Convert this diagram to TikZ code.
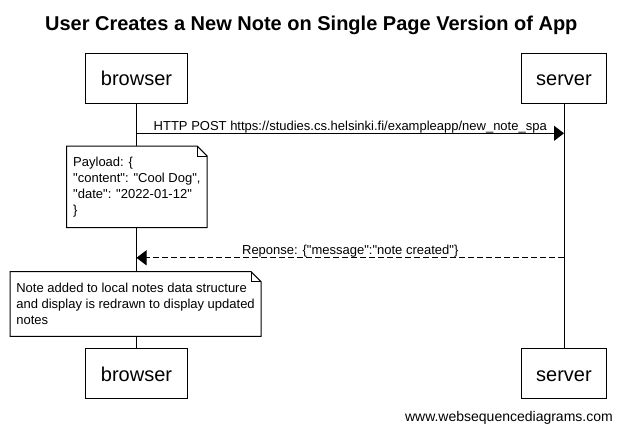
\documentclass[tikz,border=0pt]{standalone}
\usepackage{fontspec}
\setmainfont{Liberation Sans}[Ligatures=TeXOff]
\usetikzlibrary{arrows.meta,calc}

\tikzset{
  actor/.style={draw, line width=1pt, fill=white, minimum height=50pt, inner xsep=15pt,
    text height=14.5pt, text depth=0pt, font=\fontsize{20}{24}\selectfont},
  notebox/.style={fill=white, align=left, inner xsep=6pt, inner ysep=0pt, anchor=north west,
    font=\fontsize{13}{16}\selectfont},
  msg/.style={line width=1pt, -{Triangle[length=10pt,width=15pt]}},
  msglabel/.style={midway, anchor=base, inner sep=0pt, yshift=3pt, font=\fontsize{13}{16}\selectfont},
}

\begin{document}
\begin{tikzpicture}[x=1pt,y=-1pt]
  \def\bx{136.5};
  \def\sx{564};
  \def\ya{78};
  \def\yb{373.8};
  \useasboundingbox (0,0) rectangle (622,432);
  \node[anchor=base, inner sep=0pt, font=\bfseries\fontsize{20}{24}\selectfont] (title) at (311.3,30) {User Creates a New Note on Single Page Version of App};
  \node[actor] (browserTop) at (\bx,\ya) {browser};
  \node[actor] (serverTop) at (\sx,\ya) {server};
  \node[actor] (browserBot) at (\bx,\yb) {browser};
  \node[actor] (serverBot) at (\sx,\yb) {server};
  %lifelines
  \draw[line width=1pt] (browserTop) -- (browserBot);
  \draw[line width=1pt] (serverTop) -- (serverBot);
  \node[actor] at (browserTop) {browser};
  \node[actor] at (serverTop) {server};
  \node[actor] at (browserBot) {browser};
  \node[actor] at (serverBot) {server};
  %messages
  \coordinate (postB) at (\bx,133.3);
  \coordinate (postS) at (\sx,133.3);
  \coordinate (respB) at (\bx,257.8);
  \coordinate (respS) at (\sx,257.8);
  \draw[msg] (postB) -- node[msglabel] {HTTP POST https://studies.cs.helsinki.fi/exampleapp/new\_note\_spa} (postS);
  \draw[msg, dash pattern=on 6pt off 3pt] (respS) -- node[msglabel] {Reponse: \{"message":"note created"\}} (respB);
  %notes
  \node[notebox, minimum width=140pt, minimum height=81.3pt] (payload) at (66.7,146)
    {Payload: \{\\"content": "Cool Dog",\\"date": "2022-01-12"\\\}};
  \node[notebox, minimum width=250.7pt, minimum height=64.3pt] (redraw) at (10,271.7)
    {Note added to local notes data structure\\and display is redrawn to display updated\\notes};
  \foreach \n in {payload,redraw} {
    \draw[line width=1pt, line join=miter] (\n.north west) -- ($(\n.north east)+(-10,0)$) -- ($(\n.north east)+(0,10)$) -- (\n.south east) -- (\n.south west) -- cycle;
    \draw[line width=1pt] ($(\n.north east)+(-10,0)$) |- ($(\n.north east)+(0,10)$);
  }
  \node[anchor=base east, inner sep=0pt, font=\fontsize{14}{17}\selectfont] (footer) at (613,421) {www.websequencediagrams.com};
\end{tikzpicture}
\end{document}
